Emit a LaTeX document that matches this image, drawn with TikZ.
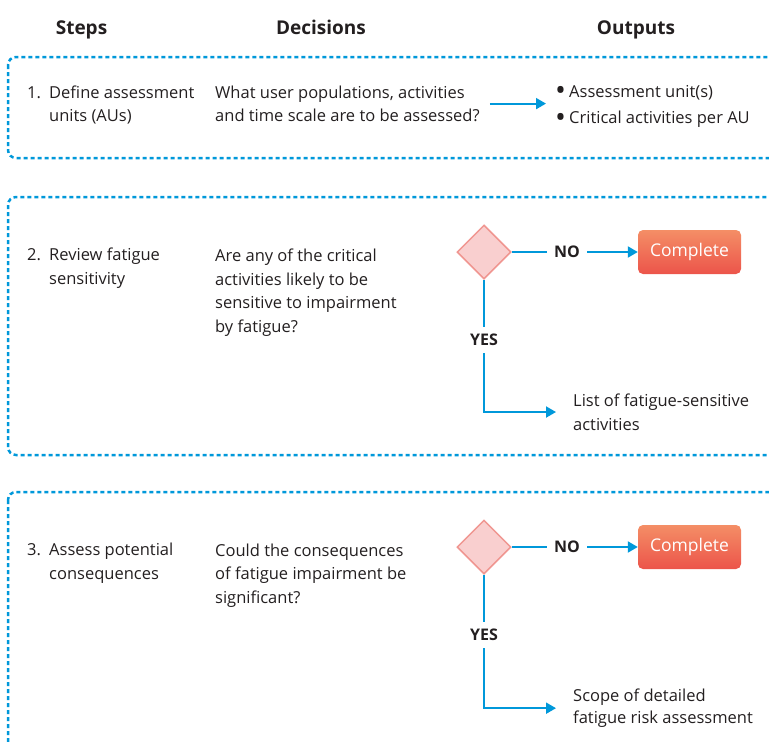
\documentclass[tikz,border=0pt]{standalone}
\usepackage{fontspec}
\setmainfont{Open Sans}
\usetikzlibrary{shapes.geometric,arrows.meta}
\definecolor{ink}{RGB}{35,31,32}
\definecolor{fblue}{RGB}{0,152,218}
\definecolor{pinkfill}{RGB}{249,207,207}
\definecolor{pinkline}{RGB}{240,150,145}
\definecolor{donetop}{RGB}{244,142,102}
\definecolor{donebot}{RGB}{236,84,74}
\newcommand{\outbullet}{\makebox[14pt][l]{\raisebox{-3.5pt}{\fontsize{29}{29}\selectfont\textbullet}}}
\begin{document}
\begin{tikzpicture}[x=1pt,y=-1pt,
  txt/.style={anchor=base west,inner sep=0pt,align=left,font=\fontsize{16.5}{23.5}\selectfont,text=ink},
  head/.style={anchor=base,font=\fontsize{19}{22}\selectfont\bfseries,text=ink},
  stage/.style={draw=fblue,line width=2.5pt,dash pattern=on 4pt off 3pt,rounded corners=8pt},
  wire/.style={draw=fblue,line width=2pt},
  flow/.style={wire,-{Triangle[length=10pt,width=11pt]}},
  check/.style={diamond,draw=pinkline,fill=pinkfill,line width=1.5pt,minimum size=54pt,inner sep=0pt},
  done/.style={rounded corners=5pt,top color=donetop,bottom color=donebot,text=white,
    minimum width=103pt,minimum height=44pt,inner sep=0pt,font=\fontsize{17.5}{20}\selectfont},
  answer/.style={font=\fontsize{16}{18}\selectfont\bfseries,inner sep=7pt,text=ink}]
\clip (0,0) rectangle (769,742);

\node[head] (hsteps) at (81.5,34) {Steps};
\node[head] (hdec) at (321,34) {Decisions};
\node[head] (hout) at (636,34) {Outputs};

\draw[stage] (8,57) rectangle (800,158);
\draw[stage] (8,197) rectangle (800,455);
\draw[stage] (8,492) rectangle (800,790);

\node[txt] (n1) at (27,98) {1.};
\node[txt] (s1) at (49,121.5) {Define assessment\\units (AUs)};
\node[txt] (d1) at (215,121.5) {What user populations, activities\\and time scale are to be assessed?};
\node[txt] (o1) at (555,123.5) {\outbullet Assessment unit(s)\\[3pt]\outbullet Critical activities per AU};
\draw[flow,shorten <=10pt,shorten >=9pt] (d1.east) -- (o1.west |- d1.east);

\node[txt] (n2) at (27,260) {2.};
\node[txt] (s2) at (49,284) {Review fatigue\\sensitivity};
\node[txt] (d2) at (215,332) {Are any of the critical\\activities likely to be\\sensitive to impairment\\by fatigue?};
\node[check] (c2) at (484,252) {};
\node[answer] (no2) at (567,252) {NO};
\node[done] (e2) at (689.5,252) {Complete};
\node[answer] (yes2) at (484,340) {YES};
\node[txt] (o2) at (573,430) {List of fatigue-sensitive\\activities};
\draw[wire] (c2.east) -- (no2.west);
\draw[flow] (no2.east) -- (e2.west);
\draw[wire] (c2.south) -- (yes2.north);
\draw[flow,shorten >=17pt] (yes2.south) |- (o2.west);

\node[txt] (n3) at (27,555) {3.};
\node[txt] (s3) at (49,579) {Assess potential\\consequences};
\node[txt] (d3) at (215,603) {Could the consequences\\of fatigue impairment be\\significant?};
\node[check] (c3) at (484,547) {};
\node[answer] (no3) at (567,547) {NO};
\node[done] (e3) at (689.5,547) {Complete};
\node[answer] (yes3) at (484,635) {YES};
\node[txt] (o3) at (573,723.5) {Scope of detailed\\[-1.5pt]fatigue risk assessment};
\draw[wire] (c3.east) -- (no3.west);
\draw[flow] (no3.east) -- (e3.west);
\draw[wire] (c3.south) -- (yes3.north);
\draw[flow,shorten >=17pt] (yes3.south) |- (o3.west);
\end{tikzpicture}
\end{document}
